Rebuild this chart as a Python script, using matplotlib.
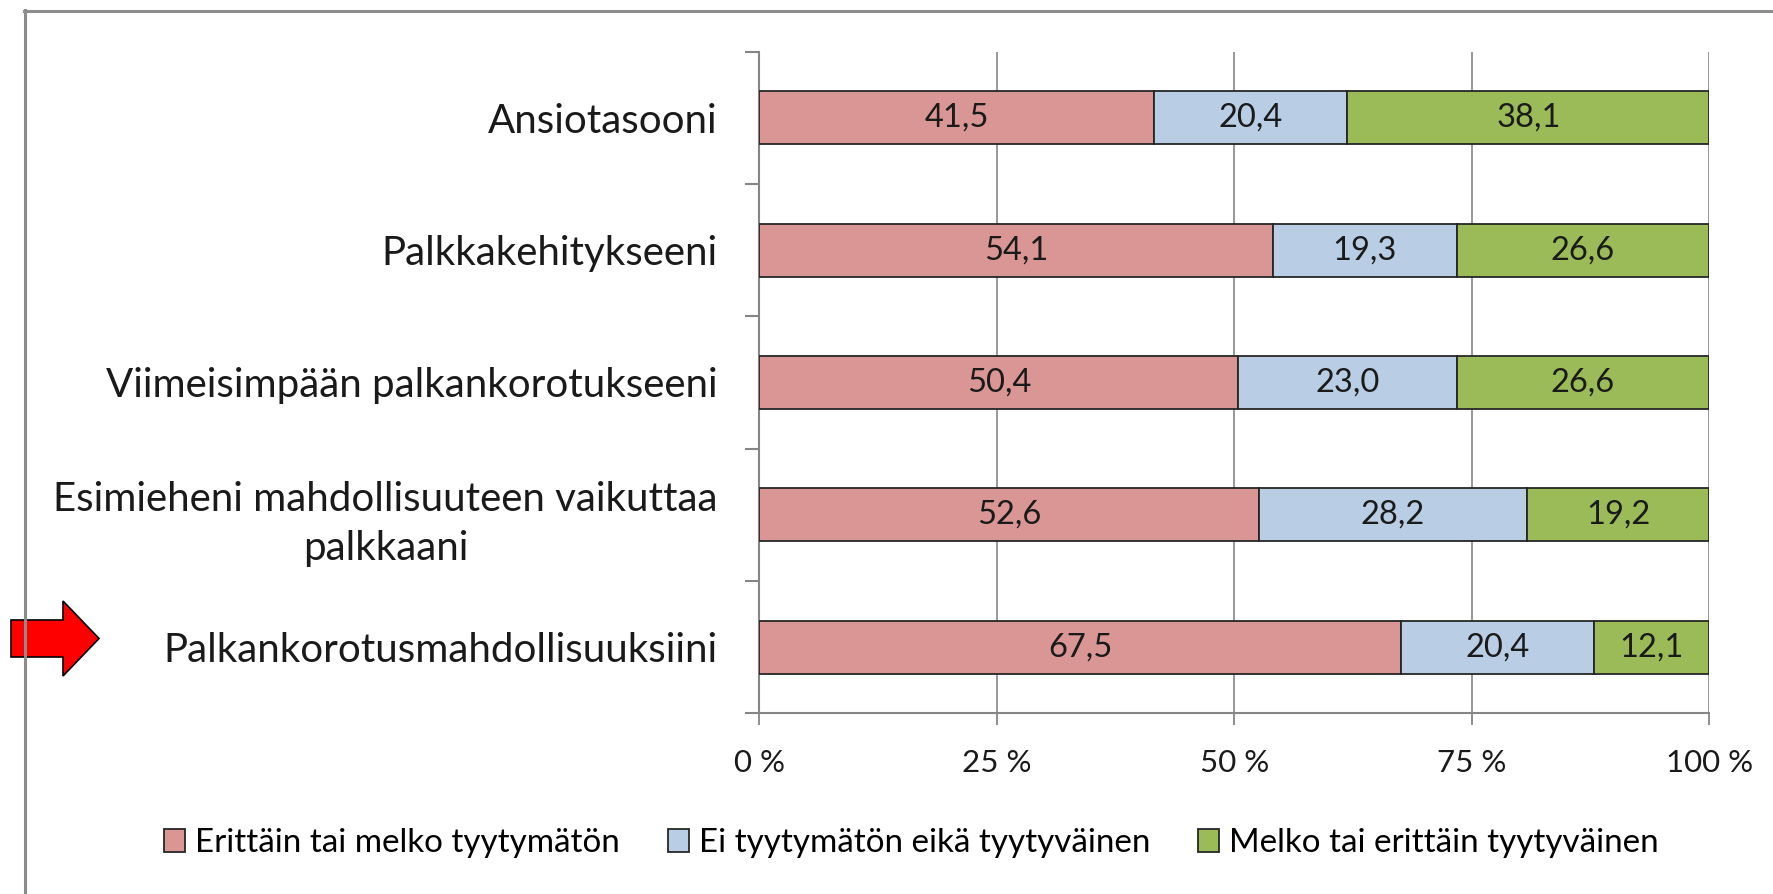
# Palkkatyytyväisyys: vaakapalkit, pinottu 100 %
import matplotlib
matplotlib.use("Agg")
import matplotlib.pyplot as plt
from matplotlib.lines import Line2D
from matplotlib.patches import FancyArrow

plt.rcParams["font.family"] = ["Lato", "DejaVu Sans"]

categories = [
    "Ansiotasooni",
    "Palkkakehitykseeni",
    "Viimeisimpään palkankorotukseeni",
    "Esimieheni mahdollisuuteen vaikuttaa\npalkkaani",
    "Palkankorotusmahdollisuuksiini",
]
series_names = [
    "Erittäin tai melko tyytymätön",
    "Ei tyytymätön eikä tyytyväinen",
    "Melko tai erittäin tyytyväinen",
]
tyytymaton = [41.5, 54.1, 50.4, 52.6, 67.5]
neutraali = [20.4, 19.3, 23.0, 28.2, 20.4]
tyytyvainen = [38.1, 26.6, 26.6, 19.2, 12.1]
x_ticks = [0, 25, 50, 75, 100]
x_tick_labels = ["0 %", "25 %", "50 %", "75 %", "100 %"]

colors = ["#D99694", "#B9CDE5", "#9BBB59"]
GRAY = "#868686"

fig = plt.figure(figsize=(17.74, 8.94), dpi=100)
ax = fig.add_axes([0.4281, 0.2021, 0.5354, 0.7401])

ypos = list(range(len(categories)))
left = [0.0] * len(categories)
for name, vals, col in zip(series_names, [tyytymaton, neutraali, tyytyvainen], colors):
    bars = ax.barh(ypos, vals, left=left, height=0.4, color=col,
                   edgecolor="#262626", linewidth=1.3, label=name, zorder=3)
    for b, v in zip(bars, vals):
        ax.text(b.get_x() + b.get_width() / 2, b.get_y() + b.get_height() / 2,
                f"{v:.1f}".replace(".", ","), ha="center", va="center",
                fontsize=23.5, color="#1a1a1a", zorder=4)
    left = [l + v for l, v in zip(left, vals)]

ax.set_xlim(0, 100)
ax.set_ylim(len(categories) - 0.5, -0.5)

ax.set_xticks(x_ticks)
ax.set_xticklabels(x_tick_labels, fontsize=22.5, color="#1a1a1a")
ax.tick_params(axis="x", length=8.6, width=1.3, color=GRAY, pad=17)

# category separators as major ticks, labels on minor ticks
ax.set_yticks([i - 0.5 for i in range(len(categories) + 1)])
ax.set_yticklabels([])
ax.set_yticks(ypos, minor=True)
ax.set_yticklabels(categories, minor=True, fontsize=29, color="#1a1a1a",
                   multialignment="center", linespacing=1.4)
ax.tick_params(axis="y", which="major", length=10, width=1.5, color=GRAY)
ax.tick_params(axis="y", which="minor", length=0, pad=30)

ax.grid(axis="x", color=GRAY, linewidth=1.2, zorder=0)
for s in ["top", "right"]:
    ax.spines[s].set_visible(False)
for s in ["left", "bottom"]:
    ax.spines[s].set_color(GRAY)
    ax.spines[s].set_linewidth(1.5)

fig.legend(loc="center left", bbox_to_anchor=(0.0924, 0.057), ncol=3,
           frameon=False, fontsize=23.9, handlelength=0.63, handleheight=0.66,
           handletextpad=0.3, columnspacing=1.45, borderpad=0, borderaxespad=0)

# frame lines of the original slide
fig.add_artist(Line2D([24 / 1774, 1], [1 - 10.5 / 894, 1 - 10.5 / 894],
                      transform=fig.transFigure, color="#8c8c8c", linewidth=2.2))
fig.add_artist(Line2D([25 / 1774, 25 / 1774], [0, 1 - 9.5 / 894],
                      transform=fig.transFigure, color="#8c8c8c", linewidth=2.2))

# red arrow pointing to the last category
arrow = FancyArrow(0.11, (894 - 638.5) / 100, 0.88, 0, width=0.37,
                   head_width=0.75, head_length=0.36, length_includes_head=True,
                   transform=fig.dpi_scale_trans, facecolor="#FF0000",
                   edgecolor="black", linewidth=1.2)
fig.add_artist(arrow)

fig.savefig("out.png", dpi=100)
